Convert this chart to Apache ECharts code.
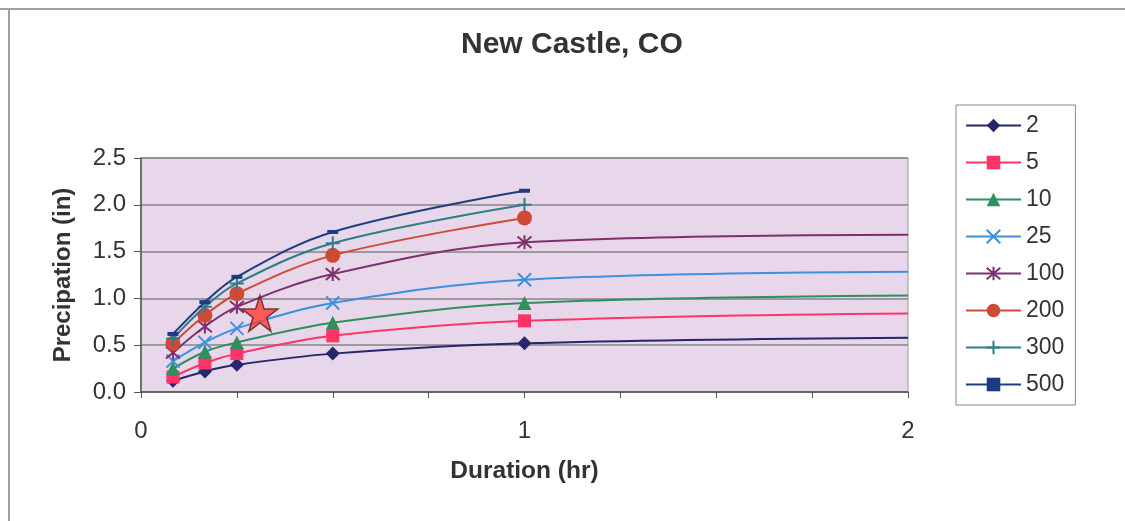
<!DOCTYPE html>
<html>
<head>
<meta charset="utf-8">
<script src="https://cdn.jsdelivr.net/npm/echarts@6/dist/echarts.min.js"></script>
<style>
html,body{margin:0;padding:0;background:#fff;}
#chart{width:1125px;height:521px;}
</style>
</head>
<body>
<div id="chart"></div>
<script>
// Durations in hours (5, 10, 15, 30, 60, 120 min)
const durations = [1/12, 1/6, 0.25, 0.5, 1, 2];
const seriesNames = ['2', '5', '10', '25', '100', '200', '300', '500'];
const p2   = [0.12, 0.22, 0.29, 0.41, 0.52, 0.58];
const p5   = [0.16, 0.31, 0.41, 0.60, 0.76, 0.84];
const p10  = [0.25, 0.43, 0.53, 0.74, 0.95, 1.03];
const p25  = [0.33, 0.53, 0.68, 0.95, 1.20, 1.285];
const p100 = [0.42, 0.70, 0.91, 1.26, 1.60, 1.68];
const p200 = [0.52, 0.82, 1.05, 1.46, 1.86];
const p300 = [0.57, 0.91, 1.16, 1.59, 2.00];
const p500 = [0.62, 0.96, 1.23, 1.71, 2.15];
const starPoint = [0.31, 0.84];
const xTickLabels = ['0', '1', '2'];
const yTickLabels = ['0.0', '0.5', '1.0', '1.5', '2.0', '2.5'];

const FONT = "'Liberation Sans', Arial, sans-serif";
const values = [p2, p5, p10, p25, p100, p200, p300, p500];
const colors = ['#26266a', '#ff3366', '#2f8f5f', '#3d8fe0', '#7f2f6e', '#cf4a33', '#2f7d86', '#203c80'];
const symbols = [
  'diamond',
  'rect',
  'triangle',
  'path://M0,0L10,10M10,0L0,10',
  'path://M0,0L10,10M10,0L0,10M5,-1L5,11',
  'circle',
  'path://M5,0L5,10M0,5L10,5',
  'rect'
];
const symbolSizes = [14, 13, 14, 13, 14, 15, 14, [11, 4]];
const strokeMarker = [false, false, false, true, true, false, true, false];

function buildData(vals) {
  return vals.map((v, i) => {
    const x = durations[i];
    if (x >= 2) return { value: [x, v], symbol: 'none' };
    return [x, v];
  });
}

const series = seriesNames.map((name, k) => ({
  name: name,
  type: 'line',
  data: buildData(values[k]),
  smooth: 0.35,
  symbol: symbols[k],
  symbolSize: symbolSizes[k],
  showAllSymbol: true,
  lineStyle: { color: colors[k], width: 2 },
  itemStyle: strokeMarker[k]
    ? { color: colors[k], borderColor: colors[k], borderWidth: 2 }
    : { color: colors[k], borderWidth: 0 },
  emphasis: { disabled: true },
  z: 3 + k
}));

series.push({
  name: 'star',
  type: 'scatter',
  data: [starPoint],
  symbol: 'path://M50,0L61.8,36.2L100,36.2L69.1,58.6L80.9,95.1L50,72.6L19.1,95.1L30.9,58.6L0,36.2L38.2,36.2Z',
  symbolSize: 36,
  itemStyle: { color: '#ff3b33', borderColor: '#5a1e1e', borderWidth: 1.5 },
  emphasis: { disabled: true },
  z: 20
});

const chart = echarts.init(document.getElementById('chart'));
chart.setOption({
  animation: false,
  backgroundColor: '#ffffff',
  title: {
    text: 'New Castle, CO',
    left: 461,
    top: 30,
    padding: 0,
    textStyle: { fontFamily: FONT, fontWeight: 'bold', fontSize: 30, color: '#333' }
  },
  graphic: [
    { type: 'line', shape: { x1: 0, y1: 9, x2: 1125, y2: 9 }, style: { stroke: '#a0a0a0', lineWidth: 2 } },
    { type: 'line', shape: { x1: 9, y1: 9, x2: 9, y2: 521 }, style: { stroke: '#a0a0a0', lineWidth: 2 } }
  ],
  legend: {
    data: seriesNames,
    orient: 'vertical',
    left: 956,
    top: 105,
    padding: [9, 11, 9, 9],
    itemGap: 14,
    itemWidth: 55,
    itemHeight: 17,
    borderColor: '#888',
    borderWidth: 1,
    backgroundColor: '#fff',
    textStyle: { fontFamily: FONT, fontSize: 23, color: '#333' },
    selectedMode: false
  },
  grid: {
    left: 141,
    right: 217,
    top: 158,
    bottom: 129,
    show: true,
    backgroundColor: '#e8d7ea',
    borderColor: '#999',
    borderWidth: 1
  },
  xAxis: {
    type: 'value',
    min: 0,
    max: 2,
    interval: 0.25,
    name: 'Duration (hr)',
    nameLocation: 'middle',
    nameGap: 67,
    nameTextStyle: { fontFamily: FONT, fontWeight: 'bold', fontSize: 24.5, color: '#333' },
    axisLine: { onZero: false, lineStyle: { color: '#555', width: 1.5 } },
    axisTick: { show: true, length: 6, lineStyle: { color: '#555' } },
    axisLabel: {
      fontFamily: FONT, fontSize: 24, color: '#333', margin: 27,
      formatter: v => (Number.isInteger(v) ? xTickLabels[v] : '')
    },
    splitLine: { show: false }
  },
  yAxis: {
    type: 'value',
    min: 0,
    max: 2.5,
    interval: 0.5,
    name: 'Precipation (in)',
    nameLocation: 'middle',
    nameGap: 66,
    nameTextStyle: { fontFamily: FONT, fontWeight: 'bold', fontSize: 24, color: '#333' },
    axisLine: { show: true, lineStyle: { color: '#555', width: 1.5 } },
    axisTick: { show: true, length: 7, lineStyle: { color: '#555' } },
    axisLabel: {
      fontFamily: FONT, fontSize: 24, color: '#333', margin: 15,
      formatter: v => yTickLabels[Math.round(v / 0.5)]
    },
    splitLine: { show: true, lineStyle: { color: '#858585', width: 1.5 } }
  },
  series: series
});
</script>
</body>
</html>
